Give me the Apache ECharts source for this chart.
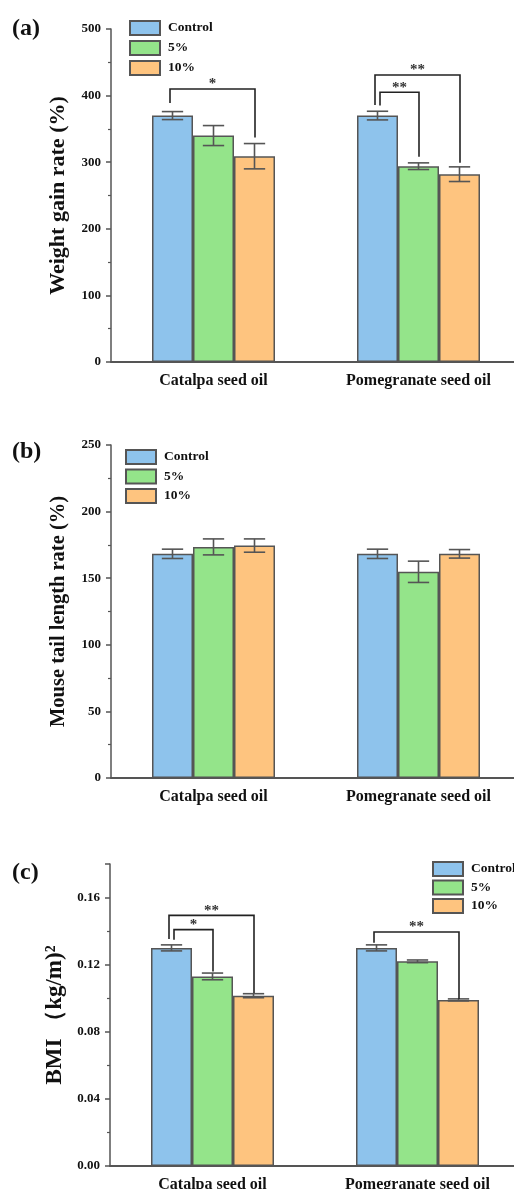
<!DOCTYPE html>
<html>
<head>
<meta charset="utf-8">
<script src="https://cdn.jsdelivr.net/npm/echarts@6/dist/echarts.min.js"></script>
<style>
  html, body { margin: 0; padding: 0; background: #fff; }
  #chart { width: 514px; height: 1189px; }
</style>
</head>
<body>
<div id="chart"></div>
<script>
// ---- data ----
const categories = ['Catalpa seed oil', 'Pomegranate seed oil'];
const groups = ['Control', '5%', '10%'];

// (a) weight gain rate (%)
const weightControl = [370, 370];
const weight5 = [340, 294];
const weight10 = [309, 282];
const weightControlErr = [6, 6.5];
const weight5Err = [15, 5];
const weight10Err = [19, 11];
// brackets: [category, line level, from group, to group, left leg end, right leg end, nested]
const weightBrackets = [
  [0, 410, 0, 2, 389, 337, 0],
  [1, 431, 0, 2, 386, 299, 0],
  [1, 405, 0, 1, 385, 308, 1]
];
const weightStars = ['*', '**', '**'];

// (b) mouse tail length rate (%)
const tailControl = [168.3, 168.3];
const tail5 = [173.5, 154.8];
const tail10 = [174.5, 168.3];
const tailControlErr = [3.5, 3.5];
const tail5Err = [6, 8];
const tail10Err = [5, 3.2];

// (c) BMI (kg/m)^2
const bmiControl = [0.130, 0.130];
const bmi5 = [0.113, 0.122];
const bmi10 = [0.1015, 0.099];
const bmiControlErr = [0.0018, 0.0018];
const bmi5Err = [0.002, 0.0008];
const bmi10Err = [0.0012, 0.0006];
const bmiBrackets = [
  [0, 0.1494, 0, 2, 0.1353, 0.1031, 0],
  [0, 0.1409, 0, 1, 0.1349, 0.1160, 1],
  [1, 0.1395, 0, 2, 0.1330, 0.0995, 0]
];
const bmiStars = ['**', '*', '**'];

// ---- styling ----
const FONT = '"Liberation Serif", "Times New Roman", serif';
const AXIS = '#555';
const colors = ['#8EC3EC', '#94E48A', '#FEC47F'];
const GAP = 0.4;           // bar category gap fraction
const GRID_LEFT = 111;
const GRID_W = 410;

function barX(api, cat, idx) {
  const c = api.coord([cat, 0])[0];
  const band = api.size([1, 0])[0];
  const w = band * (1 - GAP) / 3;
  return c + (idx - 1) * w;
}

function errorSeries(p, idx, means, errs) {
  return {
    type: 'custom',
    xAxisIndex: 2 * p,
    yAxisIndex: p,
    z: 5,
    silent: true,
    data: means.map((m, k) => [k, m, errs[k]]),
    renderItem: (params, api) => {
      const cat = api.value(0), m = api.value(1), e = api.value(2);
      const x = barX(api, cat, idx);
      const half = api.size([1, 0])[0] * (1 - GAP) / 3 * 0.26;
      const yt = api.coord([cat, m + e])[1];
      const yb = api.coord([cat, m - e])[1];
      const st = { stroke: AXIS, lineWidth: 1.6 };
      return {
        type: 'group',
        children: [
          { type: 'line', shape: { x1: x, y1: yt, x2: x, y2: yb }, style: st },
          { type: 'line', shape: { x1: x - half, y1: yt, x2: x + half, y2: yt }, style: st },
          { type: 'line', shape: { x1: x - half, y1: yb, x2: x + half, y2: yb }, style: st }
        ]
      };
    }
  };
}

function bracketSeries(p, rows, stars) {
  return {
    type: 'custom',
    xAxisIndex: 2 * p,
    yAxisIndex: p,
    z: 6,
    silent: true,
    data: rows,
    renderItem: (params, api) => {
      const cat = api.value(0), lvl = api.value(1);
      const from = api.value(2), to = api.value(3);
      const nest = api.value(6);
      const xL = barX(api, cat, from) + (nest ? 2.5 : -2.5);
      const xR = barX(api, cat, to) + 0.5;
      const yLine = api.coord([cat, lvl])[1];
      const yL = api.coord([cat, api.value(4)])[1];
      const yR = api.coord([cat, api.value(5)])[1];
      return {
        type: 'group',
        children: [
          { type: 'polyline',
            shape: { points: [[xL, yL], [xL, yLine], [xR, yLine], [xR, yR]] },
            style: { stroke: '#222', lineWidth: 1.6, fill: null } },
          { type: 'text',
            style: { x: (xL + xR) / 2, y: yLine + 3, text: stars[params.dataIndex],
                     align: 'center', verticalAlign: 'bottom',
                     fontFamily: FONT, fontWeight: 'bold', fontSize: 15, fill: '#333' } }
        ]
      };
    }
  };
}

function barSeries(p, idx, values) {
  return {
    name: groups[idx],
    type: 'bar',
    xAxisIndex: 2 * p,
    yAxisIndex: p,
    data: values,
    barGap: '0%',
    barCategoryGap: (GAP * 100) + '%',
    itemStyle: { color: colors[idx], borderColor: AXIS, borderWidth: 1.5 },
    z: 2
  };
}

const grids = [
  { left: GRID_LEFT, top: 29, width: GRID_W, height: 333 },
  { left: GRID_LEFT, top: 445, width: GRID_W, height: 333 },
  { left: 110, top: 864, width: GRID_W, height: 302 }
].map(g => Object.assign(g, { containLabel: false, outerBoundsMode: 'none' }));

const xAxes = [];
[0, 1, 2].forEach(p => {
  xAxes.push({
    type: 'category', gridIndex: p, data: categories,
    axisLine: { lineStyle: { color: AXIS, width: 2 } },
    axisTick: { alignWithLabel: true, length: 5, lineStyle: { color: AXIS, width: 1.5 } },
    axisLabel: { margin: 11, fontFamily: FONT, fontWeight: 'bold', fontSize: 16, color: '#111' }
  });
  // ticks at the category boundaries
  xAxes.push({
    type: 'category', gridIndex: p, data: categories, position: 'bottom',
    axisLine: { show: false },
    axisTick: { length: 3, lineStyle: { color: AXIS, width: 1.5 } },
    axisLabel: { show: false }
  });
});

function yAxis(p, max, interval, name, nameSize, nameGap, fmt) {
  return {
    type: 'value', gridIndex: p, min: 0, max: max, interval: interval,
    name: name, nameLocation: 'middle', nameGap: nameGap, nameRotate: 90,
    nameTextStyle: { fontFamily: FONT, fontWeight: 'bold', fontSize: nameSize, color: '#111' },
    axisLine: { show: true, lineStyle: { color: AXIS, width: 1.5 } },
    axisTick: { show: true, length: 5, lineStyle: { color: AXIS, width: 1.5 } },
    minorTick: { show: true, splitNumber: 2, length: 3, lineStyle: { color: AXIS, width: 1.2 } },
    splitLine: { show: false },
    axisLabel: { margin: 10, fontFamily: FONT, fontWeight: 'bold', fontSize: 13, color: '#111',
                 showMaxLabel: fmt ? false : true, formatter: fmt || undefined }
  };
}

const yAxes = [
  yAxis(0, 500, 100, 'Weight gain rate (%)', 22, 42),
  yAxis(1, 250, 50, 'Mouse tail length rate (%)', 20.5, 42),
  yAxis(2, 0.18, 0.04, 'BMI （kg/m)²', 23, 40, v => v.toFixed(2))
];

function legend(left, top, gap) {
  return {
    data: groups, orient: 'vertical', left: left, top: top, padding: 0,
    itemWidth: 30, itemHeight: 14, itemGap: gap, icon: 'rect', selectedMode: false,
    textStyle: { fontFamily: FONT, fontWeight: 'bold', fontSize: 13.5, color: '#111',
                 lineHeight: 14, padding: [0, 0, 0, 3] }
  };
}

const series = [
  barSeries(0, 0, weightControl), barSeries(0, 1, weight5), barSeries(0, 2, weight10),
  errorSeries(0, 0, weightControl, weightControlErr),
  errorSeries(0, 1, weight5, weight5Err),
  errorSeries(0, 2, weight10, weight10Err),
  bracketSeries(0, weightBrackets, weightStars),

  barSeries(1, 0, tailControl), barSeries(1, 1, tail5), barSeries(1, 2, tail10),
  errorSeries(1, 0, tailControl, tailControlErr),
  errorSeries(1, 1, tail5, tail5Err),
  errorSeries(1, 2, tail10, tail10Err),

  barSeries(2, 0, bmiControl), barSeries(2, 1, bmi5), barSeries(2, 2, bmi10),
  errorSeries(2, 0, bmiControl, bmiControlErr),
  errorSeries(2, 1, bmi5, bmi5Err),
  errorSeries(2, 2, bmi10, bmi10Err),
  bracketSeries(2, bmiBrackets, bmiStars)
];

const panelLabel = (t, y) => ({
  type: 'text', x: 12, y: y,
  style: { text: t, fontFamily: FONT, fontWeight: 'bold', fontSize: 24, fill: '#111',
           verticalAlign: 'middle' }
});

const chart = echarts.init(document.getElementById('chart'), null, { renderer: 'canvas' });
chart.setOption({
  animation: false,
  backgroundColor: '#fff',
  grid: grids,
  xAxis: xAxes,
  yAxis: yAxes,
  legend: [legend(129, 20, 4), legend(125, 449, 3.5), legend(432, 861, 2.5)],
  graphic: [panelLabel('(a)', 29), panelLabel('(b)', 452), panelLabel('(c)', 873)],
  series: series
});
</script>
</body>
</html>
